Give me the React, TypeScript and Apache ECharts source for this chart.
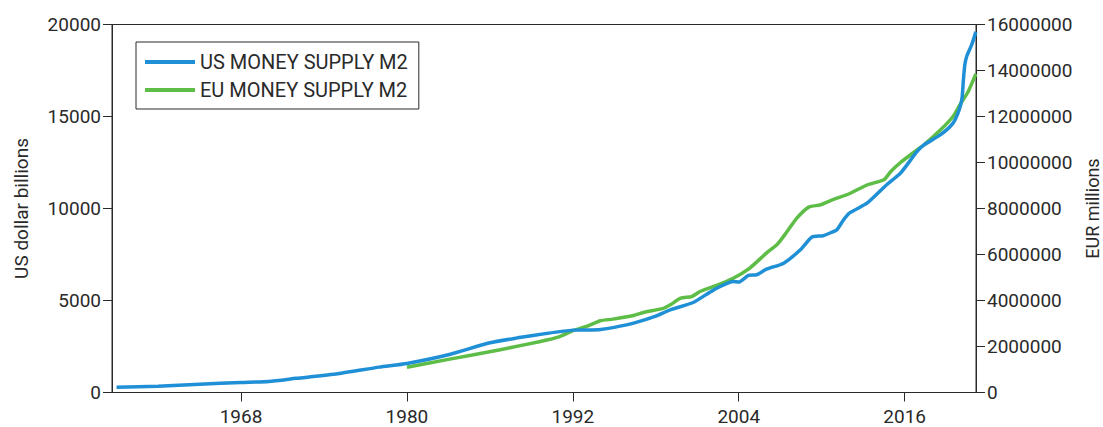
import React, { useEffect, useRef } from "react";
import * as echarts from "echarts";

// US money supply M2, USD billions (left axis)
const usYears = [
  1959.0, 1962, 1965, 1968, 1970, 1972, 1975, 1978, 1980, 1983, 1986, 1988, 1990, 1992.0,
  1993, 1994, 1995, 1996.4, 1998, 1999, 2000.7, 2002.2, 2003.6, 2004.0, 2004.7, 2005.3,
  2006, 2007.25, 2008.46, 2009.3, 2010.1, 2010.7, 2011.1, 2011.6, 2012.0, 2013.3, 2014.7,
  2015.7, 2016.9, 2017.4, 2018.6, 2019.5, 2019.95, 2020.15, 2020.25, 2020.35, 2020.5,
  2020.85, 2021.15,
];
const usValues = [
  290, 345, 450, 545, 600, 770, 1020, 1380, 1580, 2050, 2700, 2970, 3200, 3390,
  3400, 3430, 3540, 3770, 4150, 4480, 4890, 5580, 6030, 6000, 6360, 6400,
  6700, 7030, 7760, 8450, 8520, 8700, 8850, 9400, 9750, 10300, 11290,
  11920, 13100, 13460, 14010, 14640, 15370, 16000, 17000, 17800, 18300,
  18900, 19600,
];

// EU money supply M2, EUR millions (right axis)
const euYears = [
  1980.0, 1983.1, 1986.75, 1989.65, 1991.0, 1992.06, 1993.1, 1994.0, 1994.9, 1996.4,
  1997.1, 1998.6, 1999.05, 1999.8, 2000.6, 2001.2, 2002.2, 2003.6, 2004.8, 2006.0,
  2006.8, 2007.5, 2008.2, 2009.06, 2009.9, 2010.9, 2011.95, 2013.3, 2014.5, 2015.0,
  2015.7, 2016.9, 2017.4, 2018.6, 2019.5, 2020.0, 2020.6, 2021.15,
];
const euValues = [
  1100000, 1450000, 1860000, 2220000, 2420000, 2700000, 2900000, 3120000, 3190000, 3350000,
  3480000, 3670000, 3810000, 4100000, 4170000, 4390000, 4610000, 4970000, 5410000, 6060000,
  6450000, 7000000, 7580000, 8060000, 8160000, 8410000, 8630000, 9030000, 9250000, 9610000,
  10000000, 10550000, 10770000, 11420000, 12000000, 12510000, 13090000, 13850000,
];

const xTickYears = [1968, 1980, 1992, 2004, 2016];
const seriesNames = ["US MONEY SUPPLY M2", "EU MONEY SUPPLY M2"];
const leftAxisName = "US dollar billions";
const rightAxisName = "EUR millions";

const BLUE = "#1f8fd6";
const GREEN = "#5dbd46";
const INK = "#2a2a2a";
const FONT = "Roboto";

export default function App() {
  const ref = useRef<HTMLDivElement>(null);

  useEffect(() => {
    if (!ref.current) return;
    const chart = echarts.init(ref.current, null, { renderer: "svg" });
    const axisLine = { show: true, lineStyle: { color: INK, width: 1 } };
    const label = { color: INK, fontSize: 19, fontFamily: FONT };
    chart.setOption({
      animation: false,
      textStyle: { fontFamily: FONT },
      grid: {
        left: 112,
        right: 127,
        top: 24.5,
        bottom: 34.5,
        outerBoundsMode: "none",
        containLabel: false,
        show: true,
        borderColor: INK,
        borderWidth: 1,
        backgroundColor: "transparent",
      },
      legend: {
        show: true,
        orient: "vertical",
        left: 136,
        top: 42,
        icon: "rect",
        itemWidth: 50,
        itemHeight: 4,
        itemGap: 8,
        padding: [10, 11, 9, 9],
        borderColor: INK,
        borderWidth: 1,
        textStyle: { color: INK, fontSize: 20, fontFamily: FONT },
        data: seriesNames,
      },
      xAxis: {
        type: "value",
        min: 1958.67,
        max: 2021.16,
        axisLine,
        axisTick: {
          show: true,
          length: 9,
          customValues: xTickYears,
          lineStyle: { color: INK },
        },
        axisLabel: {
          ...label,
          margin: 14,
          customValues: xTickYears,
          formatter: (v: number) => String(Math.round(v)),
        },
        splitLine: { show: false },
      },
      yAxis: [
        {
          type: "value",
          min: 0,
          max: 20000,
          interval: 5000,
          position: "left",
          name: leftAxisName,
          nameLocation: "middle",
          nameGap: 81,
          nameRotate: 90,
          nameTextStyle: { color: INK, fontSize: 19, fontFamily: FONT },
          axisLine,
          axisTick: { show: true, length: 9, lineStyle: { color: INK } },
          axisLabel: { ...label, margin: 11, formatter: (v: number) => String(v) },
          splitLine: { show: false },
        },
        {
          type: "value",
          min: 0,
          max: 16000000,
          interval: 2000000,
          position: "right",
          name: rightAxisName,
          nameLocation: "middle",
          nameGap: 104,
          nameRotate: 90,
          nameTextStyle: { color: INK, fontSize: 18, fontFamily: FONT },
          axisLine,
          axisTick: { show: true, length: 9, lineStyle: { color: INK } },
          axisLabel: { ...label, margin: 11, formatter: (v: number) => String(v) },
          splitLine: { show: false },
        },
      ],
      series: [
        {
          name: seriesNames[0],
          type: "line",
          yAxisIndex: 0,
          data: usYears.map((y, i) => [y, usValues[i]]),
          showSymbol: false,
          symbol: "none",
          smooth: 0.2,
          lineStyle: { color: BLUE, width: 3.5 },
          itemStyle: { color: BLUE },
          z: 3,
        },
        {
          name: seriesNames[1],
          type: "line",
          yAxisIndex: 1,
          data: euYears.map((y, i) => [y, euValues[i]]),
          showSymbol: false,
          symbol: "none",
          smooth: 0.2,
          lineStyle: { color: GREEN, width: 3.5 },
          itemStyle: { color: GREEN },
          z: 2,
        },
      ],
    });
    return () => chart.dispose();
  }, []);

  return (
    <div
      ref={ref}
      style={{ position: "fixed", left: 0, top: 0, width: 1103, height: 427, background: "#fff" }}
    />
  );
}
